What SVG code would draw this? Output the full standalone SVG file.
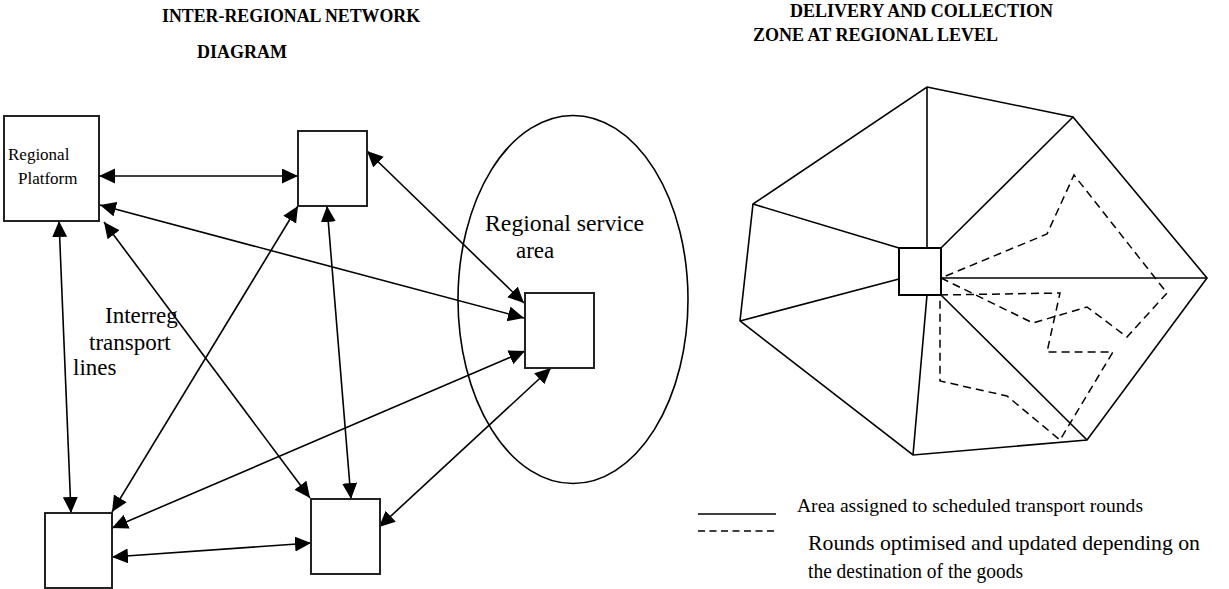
<svg xmlns="http://www.w3.org/2000/svg" width="1229" height="589" viewBox="0 0 1229 589">
<style>
.bx{fill:#fff;stroke:#222;stroke-width:2}
.cn{stroke:#000;stroke-width:1.6;fill:none;marker-start:url(#ah);marker-end:url(#ah)}
.pl{stroke:#000;stroke-width:1.6;fill:none}
.ds{stroke:#000;stroke-width:1.5;fill:none;stroke-dasharray:8 5}
.t{font-family:"Liberation Serif","Times New Roman",serif;fill:#000}
.h{font-family:"Liberation Serif","Times New Roman",serif;font-weight:bold;font-size:18px;fill:#000}
</style>
<defs>
<marker id="ah" markerUnits="userSpaceOnUse" markerWidth="17" markerHeight="16" refX="16" refY="7.5" orient="auto-start-reverse">
<path d="M0,0 L16,7.5 L0,15 z" fill="#000"/>
</marker>
</defs>
<rect width="1229" height="589" fill="#fff"/>

<g id="titles">
<text class="h" x="162" y="22" textLength="258" lengthAdjust="spacingAndGlyphs">INTER-REGIONAL NETWORK</text>
<text class="h" x="197" y="58" textLength="90" lengthAdjust="spacingAndGlyphs">DIAGRAM</text>
<text class="h" x="790" y="17" textLength="263" lengthAdjust="spacingAndGlyphs">DELIVERY AND COLLECTION</text>
<text class="h" x="753" y="41" textLength="245" lengthAdjust="spacingAndGlyphs">ZONE AT REGIONAL LEVEL</text>
</g>

<g id="service-area">
<ellipse cx="573" cy="299.5" rx="115" ry="184" class="pl"/>
<text class="t" font-size="23" x="485" y="231" textLength="159" lengthAdjust="spacingAndGlyphs">Regional service</text>
<text class="t" font-size="23" x="516" y="258">area</text>
</g>

<g id="connectors">
<line class="cn" x1="99" y1="176" x2="298" y2="176"/>
<line class="cn" x1="100" y1="205" x2="524" y2="318"/>
<line class="cn" x1="367" y1="151" x2="524" y2="303"/>
<line class="cn" x1="59" y1="221" x2="71" y2="513"/>
<line class="cn" x1="104" y1="222" x2="310" y2="498"/>
<line class="cn" x1="298" y1="206" x2="112" y2="512"/>
<line class="cn" x1="327" y1="206" x2="351" y2="499"/>
<line class="cn" x1="525" y1="351" x2="112" y2="528"/>
<line class="cn" x1="551" y1="368" x2="379" y2="527"/>
<line class="cn" x1="112" y1="557" x2="311" y2="543"/>
</g>

<g id="regional-platform">
<rect class="bx" x="4" y="116" width="95" height="105"/>
<text class="t" font-size="17" x="8" y="160">Regional</text>
<text class="t" font-size="17" x="18" y="184">Platform</text>
</g>
<g id="node-top"><rect class="bx" x="298" y="131" width="69" height="75"/></g>
<g id="node-service"><rect class="bx" x="525" y="293" width="69" height="75"/></g>
<g id="node-bottom-mid"><rect class="bx" x="311" y="499" width="69" height="75"/></g>
<g id="node-bottom-left"><rect class="bx" x="45" y="513" width="67" height="75"/></g>

<g id="interreg-label">
<text class="t" font-size="23" x="105" y="323">Interreg</text>
<text class="t" font-size="23" x="89" y="350">transport</text>
<text class="t" font-size="23" x="73" y="375">lines</text>
</g>

<g id="zone">
<polygon class="pl" points="927,87 1073,117 1207,278 1087,440 913,455 740,321 753,204"/>
<line class="pl" x1="927" y1="87" x2="927" y2="248"/>
<line class="pl" x1="1073" y1="117" x2="941" y2="248"/>
<line class="pl" x1="1207" y1="278" x2="941" y2="278"/>
<line class="pl" x1="753" y1="204" x2="899" y2="248"/>
<line class="pl" x1="740" y1="321" x2="899" y2="279"/>
<line class="pl" x1="913" y1="455" x2="927" y2="295"/>
<line class="pl" x1="1087" y1="440" x2="941" y2="295"/>
<polygon class="ds" points="941,278 1033,323 1087,307 1127,337 1167,293 1074,175 1047,234"/>
<polygon class="ds" points="940,295 1060,293 1047,352 1113,352 1060,440 1007,396 940,381"/>
<rect x="899" y="248" width="42" height="47" fill="#fff" stroke="#000" stroke-width="2"/>
</g>

<g id="legend">
<line class="pl" x1="698" y1="514" x2="776" y2="514"/>
<line x1="698" y1="531" x2="776" y2="531" stroke="#000" stroke-width="1.5" stroke-dasharray="7 4.5"/>
<text class="t" font-size="19" x="797" y="512" textLength="346" lengthAdjust="spacingAndGlyphs">Area assigned to scheduled transport rounds</text>
<text class="t" font-size="22" x="808" y="550" textLength="392" lengthAdjust="spacingAndGlyphs">Rounds optimised and updated depending on</text>
<text class="t" font-size="22" x="808" y="578" textLength="215" lengthAdjust="spacingAndGlyphs">the destination of the goods</text>
</g>
</svg>
